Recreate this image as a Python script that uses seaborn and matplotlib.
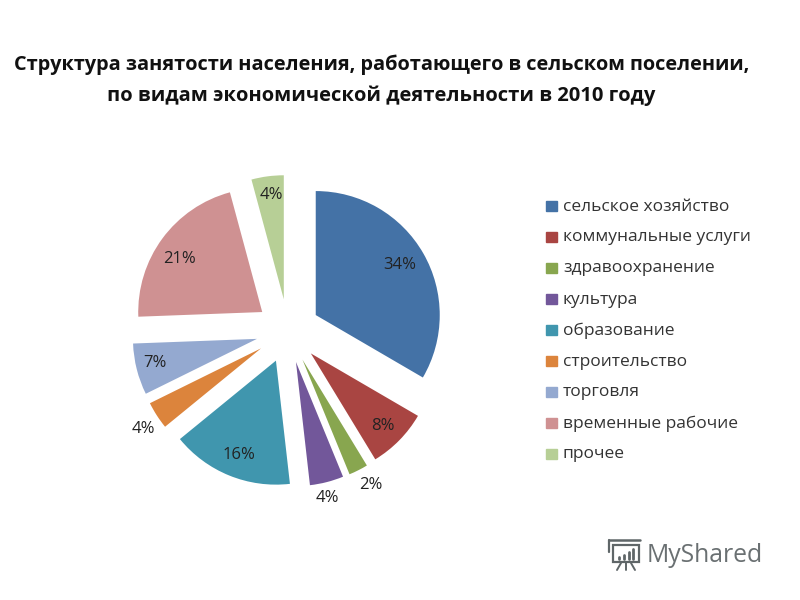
import seaborn as sb
import matplotlib.pyplot as plt
from matplotlib.patches import Rectangle, Polygon
from matplotlib.lines import Line2D

categories = ["сельское хозяйство", "коммунальные услуги", "здравоохранение", "культура",
              "образование", "строительство", "торговля", "временные рабочие", "прочее"]
# slice sizes, the printed labels are rounded
values = [33.4, 7.9, 2.5, 4.4, 15.9, 3.6, 6.7, 21.4, 4.2]
labels = ["34%", "8%", "2%", "4%", "16%", "4%", "7%", "21%", "4%"]
colors = ["#4472a6", "#a94542", "#88a64f", "#72579a", "#4096ae", "#dc843c", "#94a9d0", "#cf9192", "#b7cf96"]

sb.set_style("white")
plt.rcParams['font.family'] = ['Open Sans', 'DejaVu Sans']


def fx(px):
    return px / 800


def fy(py):
    return 1 - py / 600


fig = plt.figure(figsize=(8, 6), dpi=100)

# pie centre at pixel (288, 331), radius 124 px
ax = fig.add_axes([fx(288 - 186), fy(331 + 186), 372 / 800, 372 / 600])
ax.pie(values, colors=colors, explode=[0.258] * len(values), startangle=90, counterclock=False,
       radius=1.0, wedgeprops={"linewidth": 0})
ax.set_xlim(-1.5, 1.5)
ax.set_ylim(-1.5, 1.5)
ax.axis("off")

fig.text(fx(382), fy(65), "Структура занятости населения, работающего в сельском поселении,",
         ha="center", va="center", fontsize=14.3, fontweight="bold", color="#111111")
fig.text(fx(381.5), fy(96), "по видам экономической деятельности в 2010 году",
         ha="center", va="center", fontsize=14.5, fontweight="bold", color="#111111")

label_px = [(400, 265), (383, 426), (371, 485), (327, 498), (239, 455), (143, 429), (155, 363), (179, 259), (271, 195)]
for t, (px, py) in zip(labels, label_px):
    fig.text(fx(px), fy(py), t, ha="center", va="center", fontsize=12, color="#222222")

for i, (c, col) in enumerate(zip(categories, colors)):
    y = 206 + i * 31
    fig.add_artist(Rectangle((fx(546), fy(y + 5)), 11 / 800, 10 / 600, color=col, transform=fig.transFigure))
    fig.text(fx(563), fy(y + 0.5), c, ha="left", va="center", fontsize=12.5, color="#333333")

# logo
logo = "#5f6668"
fig.text(fx(647), fy(555), "MyShared", ha="left", va="center", fontsize=17.8, color="#6a7072")
fig.add_artist(Polygon([(fx(613), fy(545)), (fx(639), fy(545)), (fx(639), fy(562)), (fx(613), fy(562))],
                       closed=True, fill=False, edgecolor=logo, linewidth=1.6, transform=fig.transFigure))
fig.add_artist(Line2D([fx(609), fx(640)], [fy(540), fy(540)], color=logo, linewidth=1.8, transform=fig.transFigure))
fig.add_artist(Line2D([fx(609), fx(609)], [fy(540), fy(552)], color=logo, linewidth=1.6, transform=fig.transFigure))
for x0, top in [(619, 557), (624, 555), (629, 552), (633, 549)]:
    fig.add_artist(Line2D([fx(x0), fx(x0)], [fy(559), fy(top)], color=logo, linewidth=2, transform=fig.transFigure))
for x0, x1 in [(621, 617), (626, 626), (631, 635)]:
    fig.add_artist(Line2D([fx(x0), fx(x1)], [fy(563), fy(570)], color=logo, linewidth=1.4, transform=fig.transFigure))

fig.savefig("out.png", dpi=100)
